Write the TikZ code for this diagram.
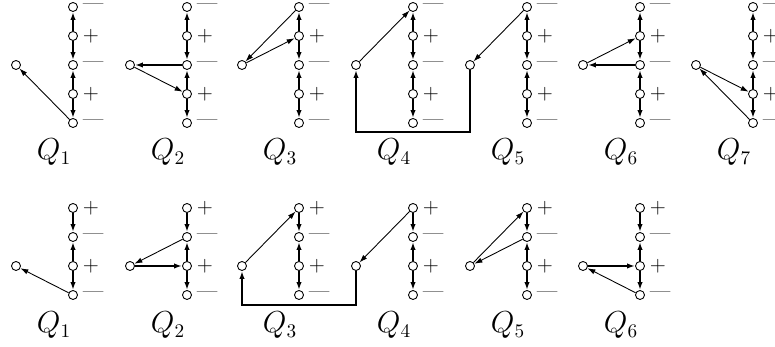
\documentclass[tikz,border=0pt]{standalone}
\usetikzlibrary{arrows.meta}
\tikzset{
  vtx/.style={circle,draw,fill=white,inner sep=0pt,minimum size=0.18cm},
  sgn/.style={inner xsep=2.5pt,inner ysep=0pt,font=\large},
  qlab/.style={anchor=base,font=\fontsize{16}{18}\selectfont},
  >={Latex[length=4.5pt,width=3pt]},
}
\begin{document}
\begin{tikzpicture}[x=1cm,y=1cm,line width=0.5pt]
\useasboundingbox (0,0) rectangle (15.5,6.94);

\foreach \i/\x in {1/1.46,2/3.74,3/5.98,4/8.26,5/10.54,6/12.80,7/15.06}{
  \node[vtx,label={[sgn]right:---}] (t\i a) at (\x,6.80) {};
  \node[vtx,label={[sgn]right:$+$}] (t\i b) at (\x,6.22) {};
  \node[vtx,label={[sgn]right:---}] (t\i c) at (\x,5.64) {};
  \node[vtx,label={[sgn]right:$+$}] (t\i d) at (\x,5.06) {};
  \node[vtx,label={[sgn]right:---}] (t\i e) at (\x,4.48) {};
  \node[vtx] (t\i x) at (\x-1.14,5.64) {};
  \node[qlab] (t\i q) at (\x-0.38,3.74) {$Q_\i$};
  \draw[->,very thick] (t\i b) -- (t\i a);
  \draw[->,very thick] (t\i b) -- (t\i c);
  \draw[->,very thick] (t\i d) -- (t\i c);
  \draw[->,very thick] (t\i d) -- (t\i e);
}

\draw[->] (t1e) -- (t1x);
\draw[->,very thick] (t2c) -- (t2x);
\draw[->] (t2x) -- (t2d);
\draw[->] (t3a) -- (t3x);
\draw[->] (t3x) -- (t3b);
\draw[->] (t4x) -- (t4a);
\draw[->] (t5a) -- (t5x);
\draw[->,very thick] (t5x) -- ++(0,-1.34) -| (t4x);
\draw[->] (t6x) -- (t6b);
\draw[->,very thick] (t6c) -- (t6x);
\draw[->] (t7x) -- (t7d);
\draw[->] (t7e) -- (t7x);

\foreach \i/\x in {1/1.46,2/3.74,3/5.98,4/8.26,5/10.54,6/12.80}{
  \node[vtx,label={[sgn]right:$+$}] (b\i a) at (\x,2.78) {};
  \node[vtx,label={[sgn]right:---}] (b\i b) at (\x,2.20) {};
  \node[vtx,label={[sgn]right:$+$}] (b\i c) at (\x,1.62) {};
  \node[vtx,label={[sgn]right:---}] (b\i d) at (\x,1.04) {};
  \node[vtx] (b\i x) at (\x-1.14,1.62) {};
  \node[qlab] (b\i q) at (\x-0.38,0.28) {$Q_\i$};
  \draw[->,very thick] (b\i a) -- (b\i b);
  \draw[->,very thick] (b\i c) -- (b\i b);
  \draw[->,very thick] (b\i c) -- (b\i d);
}

\draw[->] (b1d) -- (b1x);
\draw[->] (b2b) -- (b2x);
\draw[->,very thick] (b2x) -- (b2c);
\draw[->] (b3x) -- (b3a);
\draw[->,very thick] (b4x) -- ++(0,-0.78) -| (b3x);
\draw[->] (b4a) -- (b4x);
\draw[->] (b5x) -- (b5a);
\draw[->] (b5b) -- (b5x);
\draw[->,very thick] (b6x) -- (b6c);
\draw[->] (b6d) -- (b6x);
\end{tikzpicture}
\end{document}
